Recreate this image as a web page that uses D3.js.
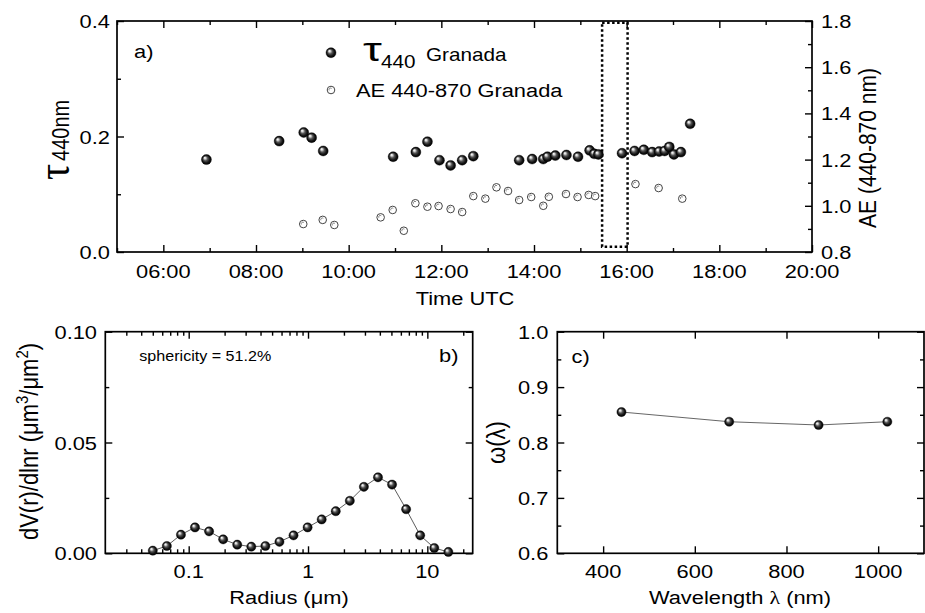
<!DOCTYPE html>
<html><head><meta charset="utf-8">
<script src="https://cdn.jsdelivr.net/npm/d3@7"></script>
<style>
body{margin:0;background:#fff}
svg{display:block}
text{font-family:"Liberation Sans",Arial,Helvetica,sans-serif;fill:#000}
</style>
</head><body>
<svg id="chart" width="925" height="613"></svg>
<script>
// ---------------- DATA ----------------
// Panel a: AOD 440 nm (hours UTC)
const aodTimes  = [6.93, 8.50, 9.03, 9.20, 9.45, 10.96, 11.45, 11.70, 11.96, 12.20, 12.45, 12.69, 13.68, 13.96, 14.20, 14.29, 14.46, 14.70, 14.95, 15.20, 15.30, 15.39, 15.90, 16.17, 16.37, 16.55, 16.70, 16.82, 16.92, 17.02, 17.17, 17.37];
const aodValues = [0.160, 0.192, 0.207, 0.198, 0.175, 0.165, 0.173, 0.191, 0.159, 0.150, 0.159, 0.166, 0.159, 0.161, 0.161, 0.165, 0.167, 0.168, 0.165, 0.176, 0.170, 0.169, 0.171, 0.175, 0.177, 0.173, 0.174, 0.175, 0.182, 0.169, 0.173, 0.222];
// Panel a: Angstrom exponent 440-870
const aeTimes  = [9.02, 9.44, 9.69, 10.69, 10.95, 11.19, 11.44, 11.70, 11.94, 12.20, 12.45, 12.69, 12.95, 13.19, 13.44, 13.68, 13.94, 14.20, 14.32, 14.69, 14.94, 15.18, 15.32, 16.19, 16.69, 17.20];
const aeValues = [0.921, 0.939, 0.917, 0.950, 0.982, 0.892, 1.011, 0.996, 0.999, 0.986, 0.973, 1.042, 1.031, 1.080, 1.064, 1.025, 1.038, 1.000, 1.039, 1.051, 1.038, 1.047, 1.042, 1.094, 1.077, 1.031];
// Highlighted time window (hours) and AOD extent of the dotted box
const windowTimes = [15.47, 16.02];
const windowAod   = [0.009, 0.397];
// Panel b: volume size distribution
const radii = [0.05, 0.0656, 0.0861, 0.1129, 0.1482, 0.1944, 0.2551, 0.3347, 0.4392, 0.5762, 0.7561, 0.9920, 1.3016, 1.7078, 2.2407, 2.9400, 3.8575, 5.0613, 6.6407, 8.7131, 11.4323, 15.0];
const dVdlnr = [0.0012, 0.0033, 0.0084, 0.0117, 0.0099, 0.0063, 0.0039, 0.0030, 0.0033, 0.0052, 0.0081, 0.0117, 0.0153, 0.0190, 0.0237, 0.0300, 0.0343, 0.0310, 0.0199, 0.0081, 0.0024, 0.0006];
// Panel c: single scattering albedo
const wavelengths = [440, 675, 870, 1020];
const ssa = [0.855, 0.8375, 0.8316, 0.8375];
// Tick labels
const hourTicks = [6, 8, 10, 12, 14, 16, 18, 20];
const hourLabels = ["06:00", "08:00", "10:00", "12:00", "14:00", "16:00", "18:00", "20:00"];
const aodTicks = [0, 0.2, 0.4], aodLabels = ["0.0", "0.2", "0.4"];
const aeTicks = [0.8, 1.0, 1.2, 1.4, 1.6, 1.8], aeLabels = ["0.8", "1.0", "1.2", "1.4", "1.6", "1.8"];
const radTicks = [0.1, 1, 10], radLabels = ["0.1", "1", "10"];
const dvTicks = [0, 0.05, 0.1], dvLabels = ["0.00", "0.05", "0.10"];
const wlTicks = [400, 600, 800, 1000], wlLabels = ["400", "600", "800", "1000"];
const ssaTicks = [0.6, 0.7, 0.8, 0.9, 1.0], ssaLabels = ["0.6", "0.7", "0.8", "0.9", "1.0"];

// ---------------- SETUP ----------------
const svg = d3.select("#chart");
const defs = svg.append("defs");
const grad = defs.append("radialGradient").attr("id", "sphere")
  .attr("cx", "0.5").attr("cy", "0.5").attr("r", "0.5").attr("fx", "0.32").attr("fy", "0.3");
[[0, "#ffffff"], [0.18, "#d8d8d8"], [0.45, "#555"], [0.75, "#151515"], [1, "#000"]]
  .forEach(([o, c]) => grad.append("stop").attr("offset", o).attr("stop-color", c));

const SX = 1.15;
function htext(g, x, y, s, size, anchor, sx) {
  return g.append("text")
    .attr("transform", `translate(${x},${y}) scale(${sx == null ? SX : sx},1)`)
    .attr("font-size", size).attr("text-anchor", anchor || "start").text(s);
}
function vtext(g, x, y, size, anchor) {
  return g.append("text")
    .attr("transform", `translate(${x},${y}) rotate(-90) scale(1,${SX})`)
    .attr("font-size", size).attr("text-anchor", anchor || "middle");
}
function ticks(g, axis, tx, ty, values, size) {
  const a = g.append("g").attr("transform", `translate(${tx},${ty})`)
    .call(axis.tickValues(values).tickSize(-size).tickFormat(""));
  a.select(".domain").remove();
  a.selectAll("line").attr("stroke", "#000").attr("stroke-width", 1.4);
}
function frame(g, x0, x1, y0, y1) {
  g.append("rect").attr("x", x0).attr("y", y1).attr("width", x1 - x0).attr("height", y0 - y1)
    .attr("fill", "none").attr("stroke", "#000").attr("stroke-width", 1.7);
}
function spheres(g, xs, ys, xScale, yScale, r) {
  g.selectAll(null).data(xs).enter().append("circle")
    .attr("cx", (d) => xScale(d)).attr("cy", (d, i) => yScale(ys[i])).attr("r", r)
    .attr("fill", "url(#sphere)").attr("stroke", "#000").attr("stroke-width", 0.4);
}
function openMarks(g, xs, ys, xScale, yScale, r) {
  const m = g.selectAll(null).data(xs).enter().append("g")
    .attr("transform", (d, i) => `translate(${xScale(d)},${yScale(ys[i])})`);
  m.append("circle").attr("r", r).attr("fill", "#fff").attr("stroke", "#444").attr("stroke-width", 1);
  m.append("path").attr("d", "M-1.8,0.4 A1.6,1.6 0 0 1 0.6,-1.6").attr("fill", "none")
    .attr("stroke", "#666").attr("stroke-width", 0.8);
}

// ---------------- PANEL A ----------------
const gA = svg.append("g");
const xA = d3.scaleLinear([5, 20], [117, 812]);
const yA = d3.scaleLinear([0, 0.4], [252, 21]);
const yAR = d3.scaleLinear([0.8, 1.8], [252, 21]);
const allHours = d3.range(5, 21);
const minorHours = allHours.filter((h) => h % 2 === 1);
ticks(gA, d3.axisBottom(xA), 0, 252, hourTicks, 7);
ticks(gA, d3.axisBottom(xA), 0, 252, minorHours, 4);
ticks(gA, d3.axisTop(xA), 0, 21, hourTicks, 7);
ticks(gA, d3.axisTop(xA), 0, 21, minorHours, 4);
ticks(gA, d3.axisLeft(yA), 117, 0, aodTicks, 7);
ticks(gA, d3.axisLeft(yA), 117, 0, [0.1, 0.3], 4);
ticks(gA, d3.axisRight(yAR), 812, 0, aeTicks, 7);
ticks(gA, d3.axisRight(yAR), 812, 0, [0.9, 1.1, 1.3, 1.5, 1.7], 4);
frame(gA, 117, 812, 252, 21);

// dotted window
gA.append("rect")
  .attr("x", xA(windowTimes[0])).attr("y", yA(windowAod[1]))
  .attr("width", xA(windowTimes[1]) - xA(windowTimes[0]))
  .attr("height", yA(windowAod[0]) - yA(windowAod[1]))
  .attr("fill", "none").attr("stroke", "#000").attr("stroke-width", 2.5)
  .attr("stroke-dasharray", "2.5 2.5");

openMarks(gA, aeTimes, aeValues, xA, yAR, 3.8);
spheres(gA, aodTimes, aodValues, xA, yA, 5);

hourTicks.forEach((h, i) => htext(gA, xA(h), 278, hourLabels[i], 19, "middle"));
aodTicks.forEach((v, i) => htext(gA, 110, yA(v) + 7, aodLabels[i], 19, "end"));
aeTicks.forEach((v, i) => htext(gA, 821, yAR(v) + 7, aeLabels[i], 19, "start"));
htext(gA, 465, 305, "Time UTC", 19, "middle");
htext(gA, 134, 58, "a)", 19, "start");

// left axis title tau_440nm
const tl = vtext(gA, 69, 180, 40, "start");
tl.append("tspan").attr("font-family", "Liberation Serif").text("τ");
tl.append("tspan").attr("font-size", 20).attr("dx", 3).text("440nm");
// right axis title
vtext(gA, 876, 148, 21, "middle").text("AE (440-870 nm)");

// legend
const lg = gA.append("g");
lg.append("circle").attr("cx", 331).attr("cy", 52.7).attr("r", 5).attr("fill", "url(#sphere)")
  .attr("stroke", "#000").attr("stroke-width", 0.4);
openMarks(lg, [331], [90], (d) => d, (d) => d, 3.8);
lg.append("text").attr("transform", "translate(363,61) scale(1.4,1)").attr("font-size", 34)
  .attr("font-family", "Liberation Serif").text("τ");
htext(lg, 381, 68, "440", 18, "start");
htext(lg, 426, 60.5, "Granada", 18, "start");
htext(lg, 356, 96.7, "AE 440-870 Granada", 19, "start");

// ---------------- PANEL B ----------------
const gB = svg.append("g");
const xB = d3.scaleLog([0.02, 24], [105.3, 472.7]);
const yB = d3.scaleLinear([0, 0.1], [553.3, 331.7]);
const radMinor = [0.03, 0.04, 0.05, 0.06, 0.07, 0.08, 0.09, 0.2, 0.3, 0.4, 0.5, 0.6, 0.7, 0.8, 0.9, 2, 3, 4, 5, 6, 7, 8, 9, 20];
ticks(gB, d3.axisBottom(xB), 0, 553.3, radTicks, 7);
ticks(gB, d3.axisBottom(xB), 0, 553.3, radMinor, 4);
ticks(gB, d3.axisTop(xB), 0, 331.7, radTicks, 7);
ticks(gB, d3.axisTop(xB), 0, 331.7, radMinor, 4);
ticks(gB, d3.axisLeft(yB), 105.3, 0, dvTicks, 7);
ticks(gB, d3.axisLeft(yB), 105.3, 0, [0.025, 0.075], 4);
ticks(gB, d3.axisRight(yB), 472.7, 0, dvTicks, 7);
ticks(gB, d3.axisRight(yB), 472.7, 0, [0.025, 0.075], 4);
frame(gB, 105.3, 472.7, 553.3, 331.7);

gB.append("path")
  .attr("d", d3.line().x((d) => xB(d)).y((d, i) => yB(dVdlnr[i]))(radii))
  .attr("fill", "none").attr("stroke", "#333").attr("stroke-width", 0.8);
spheres(gB, radii, dVdlnr, xB, yB, 4.6);

radTicks.forEach((v, i) => htext(gB, xB(v), 578, radLabels[i], 19, "middle"));
dvTicks.forEach((v, i) => htext(gB, 97, yB(v) + 7, dvLabels[i], 19, "end"));
htext(gB, 289, 604, "Radius (μm)", 19, "middle");
htext(gB, 439, 362, "b)", 19, "start");
htext(gB, 139.3, 361, "sphericity = 51.2%", 14, "start");
const bl = vtext(gB, 38, 441.5, 22, "middle");
bl.append("tspan").text("dV(r)/dlnr (μm");
bl.append("tspan").attr("font-size", 15).attr("dy", -9).text("3");
bl.append("tspan").attr("dy", 9).text("/μm");
bl.append("tspan").attr("font-size", 15).attr("dy", -9).text("2");
bl.append("tspan").attr("dy", 9).text(")");

// ---------------- PANEL C ----------------
const gC = svg.append("g");
const xC = d3.scaleLinear([300, 1100], [557.3, 924]);
const yC = d3.scaleLinear([0.6, 1.0], [553.3, 331.7]);
const ssaMinor = [0.65, 0.75, 0.85, 0.95];
ticks(gC, d3.axisBottom(xC), 0, 553.3, wlTicks, 7);
ticks(gC, d3.axisTop(xC), 0, 331.7, wlTicks, 7);
ticks(gC, d3.axisLeft(yC), 557.3, 0, ssaTicks, 7);
ticks(gC, d3.axisLeft(yC), 557.3, 0, ssaMinor, 4);
ticks(gC, d3.axisRight(yC), 924, 0, ssaTicks, 7);
ticks(gC, d3.axisRight(yC), 924, 0, ssaMinor, 4);
frame(gC, 557.3, 924, 553.3, 331.7);

gC.append("path")
  .attr("d", d3.line().x((d) => xC(d)).y((d, i) => yC(ssa[i]))(wavelengths))
  .attr("fill", "none").attr("stroke", "#555").attr("stroke-width", 0.9);
spheres(gC, wavelengths, ssa, xC, yC, 4.6);

wlTicks.forEach((v, i) => htext(gC, xC(v), 578, wlLabels[i], 19, "middle"));
ssaTicks.forEach((v, i) => htext(gC, 548.3, yC(v) + 7, ssaLabels[i], 19, "end"));
const wt = gC.append("text").attr("transform", "translate(740,604) scale(1.15,1)")
  .attr("font-size", 19).attr("text-anchor", "middle");
wt.append("tspan").text("Wavelength ");
wt.append("tspan").attr("font-family", "Liberation Serif").text("λ");
wt.append("tspan").text(" (nm)");
htext(gC, 571.5, 363, "c)", 19, "start");
const ol = vtext(gC, 505, 442.5, 22, "middle").attr("font-family", "Liberation Serif");
ol.text("ω(λ)");
</script>
</body></html>
